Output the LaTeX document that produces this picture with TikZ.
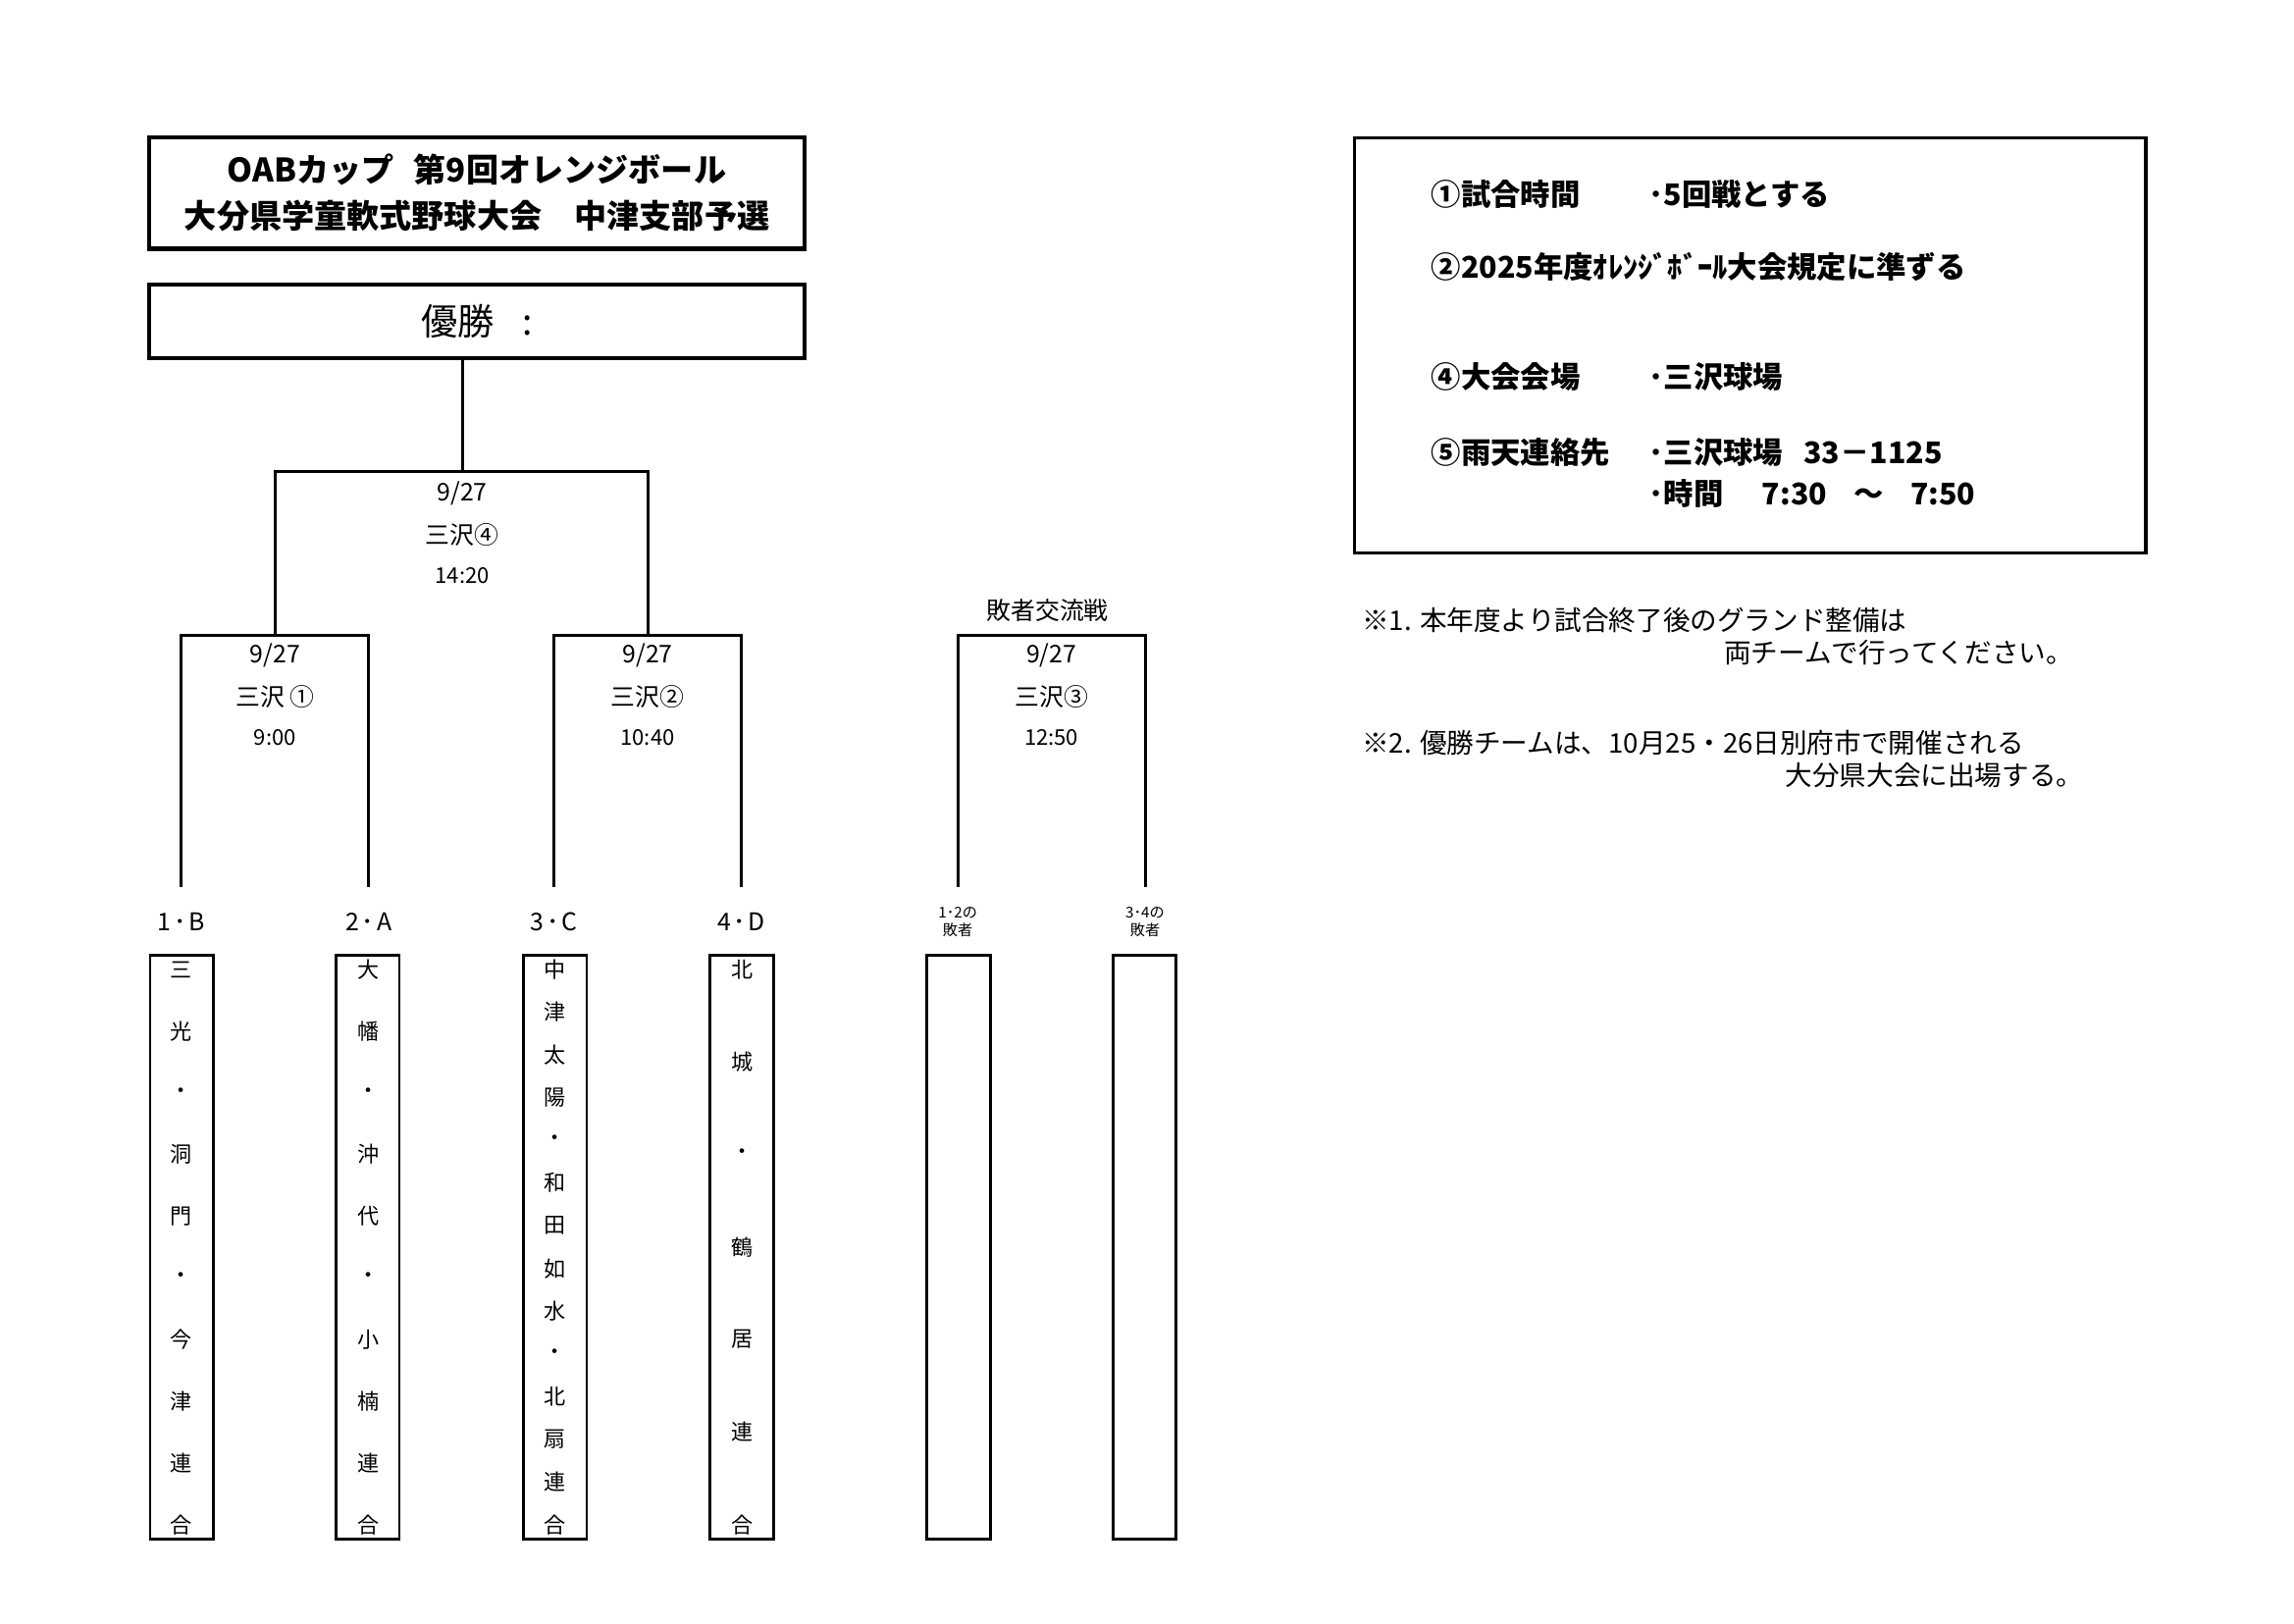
\documentclass[tikz,border=0pt]{standalone}
\usepackage{fontspec}
\setmainfont{Noto Sans CJK JP}
\begin{document}
\begin{tikzpicture}[x=0.36pt,y=-0.36pt,
  brk/.style={line width=1.1pt},
  frame/.style={draw,line width=1.6pt,inner sep=0pt},
  tbox/.style={draw,line width=1.0pt,minimum width=23.4pt,minimum height=215.6pt,inner sep=0pt},
  tchar/.style={font=\fontsize{8}{8}\selectfont,inner sep=0pt},
  lab/.style={font=\fontsize{9}{9}\selectfont,inner sep=0pt},
  tim/.style={font=\fontsize{8}{8}\selectfont,inner sep=0pt},
  small/.style={font=\fontsize{5.5}{6.5}\selectfont,inner sep=0pt,align=center},
  info/.style={font=\bfseries\fontsize{11}{11}\selectfont,anchor=west,inner sep=0pt},
  note/.style={font=\fontsize{10}{10}\selectfont,anchor=west,inner sep=0pt}]
\useasboundingbox[fill=white] (0,0) rectangle (2352,1664);
% title
\node[frame,minimum width=241.9pt,minimum height=41pt,align=center,
  font=\bfseries\fontsize{12}{17}\selectfont] (title) at (489,198)
  {OABカップ\hspace{0.6em}第9回オレンジボール\\大分県学童軟式野球大会　中津支部予選};
\node[frame,minimum width=241.9pt,minimum height=27pt,
  font=\fontsize{13.5}{14}\selectfont] (win) at (489,329.5) {優勝\hspace{0.75em}:};
% bracket coordinates
\coordinate (f) at (474,483);
\coordinate (s1) at (282,651);
\coordinate (s2) at (664,651);
\coordinate (a1) at (186,909);
\coordinate (a2) at (378,909);
\coordinate (a3) at (568,909);
\coordinate (a4) at (760,909);
\coordinate (ls) at (1078,651);
\coordinate (la1) at (982,909);
\coordinate (la2) at (1174,909);
\draw[brk] (win.south -| f) -- (f);
\draw[brk] (s1) |- (f) -| (s2);
\draw[brk] (a1) |- (s1) -| (a2);
\draw[brk] (a3) |- (s2) -| (a4);
\draw[brk] (la1) |- (ls) -| (la2);
% match labels
\node[lab] (fd) at (474,506) {9/27};
\node[lab] (fp) at (474,548) {三沢④};
\node[tim] (ft) at (474,590) {14:20};
\node[lab] (s1d) at (282,672) {9/27};
\node[lab] (s1p) at (282,714) {三沢 ①};
\node[tim] (s1t) at (282,756) {9:00};
\node[lab] (s2d) at (664,672) {9/27};
\node[lab] (s2p) at (664,714) {三沢②};
\node[tim] (s2t) at (664,756) {10:40};
\node[lab] (lt) at (1074,626) {敗者交流戦};
\node[lab] (lsd) at (1078,672) {9/27};
\node[lab] (lsp) at (1078,714) {三沢③};
\node[tim] (lst) at (1078,756) {12:50};
% team labels
\node[lab] (l1) at (186,945) {1\kern1pt･\kern1pt B};
\node[lab] (l2) at (378,945) {2\kern1pt･\kern1pt A};
\node[lab] (l3) at (568,945) {3\kern1pt･\kern1pt C};
\node[lab] (l4) at (760,945) {4\kern1pt･\kern1pt D};
\node[small] (l5) at (982,945) {1･2の\\敗者};
\node[small] (l6) at (1174,945) {3･4の\\敗者};
% team boxes
\node[tbox] (b1) at (186.5,1278.5) {};
\node[tbox] (b2) at (377,1278.5) {};
\node[tbox] (b3) at (569,1278.5) {};
\node[tbox] (b4) at (760.5,1278.5) {};
\node[tbox] (b5) at (983,1278.5) {};
\node[tbox] (b6) at (1173.5,1278.5) {};
\foreach \c [count=\k] in {三,光,・,洞,門,・,今,津,連,合}
  \node[tchar] (c1-\k) at (186,{994+(\k-1)*569/9}) {\c};
\foreach \c [count=\k] in {大,幡,・,沖,代,・,小,楠,連,合}
  \node[tchar] (c2-\k) at (378,{994+(\k-1)*569/9}) {\c};
\foreach \c [count=\k] in {中,津,太,陽,・,和,田,如,水,・,北,扇,連,合}
  \node[tchar] (c3-\k) at (569,{994+(\k-1)*569/13}) {\c};
\foreach \c [count=\k] in {北,城,・,鶴,居,連,合}
  \node[tchar] (c4-\k) at (761,{994+(\k-1)*569/6}) {\c};
% info box
\node[draw,line width=1.1pt,minimum width=292pt,minimum height=153.4pt,inner sep=0pt] (ibox) at (1794.5,354) {};
\node[info] (i1) at (1467,199) {①試合時間};
\node[info] (i1b) at (1690,199) {･5回戦とする};
\node[info] (i2) at (1467,274) {②2025年度ｵﾚﾝｼﾞﾎﾞｰﾙ大会規定に準ずる};
\node[info] (i4) at (1467,386) {④大会会場};
\node[info] (i4b) at (1690,386) {･三沢球場};
\node[info] (i5) at (1467,464) {⑤雨天連絡先};
\node[info] (i5b) at (1690,464) {･三沢球場\hspace{0.7em}33－1125};
\node[info] (i5c) at (1690,506) {･時間\hspace{1.3em}7:30\hspace{0.9em}～\hspace{0.9em}7:50};
% notes
\node[note] (n1) at (1396,636) {※1. 本年度より試合終了後のグランド整備は};
\node[note] (n1b) at (1767,669) {両チームで行ってください。};
\node[note] (n2) at (1396,762) {※2. 優勝チームは、10月25・26日別府市で開催される};
\node[note] (n2b) at (1830,795) {大分県大会に出場する。};
\end{tikzpicture}
\end{document}
